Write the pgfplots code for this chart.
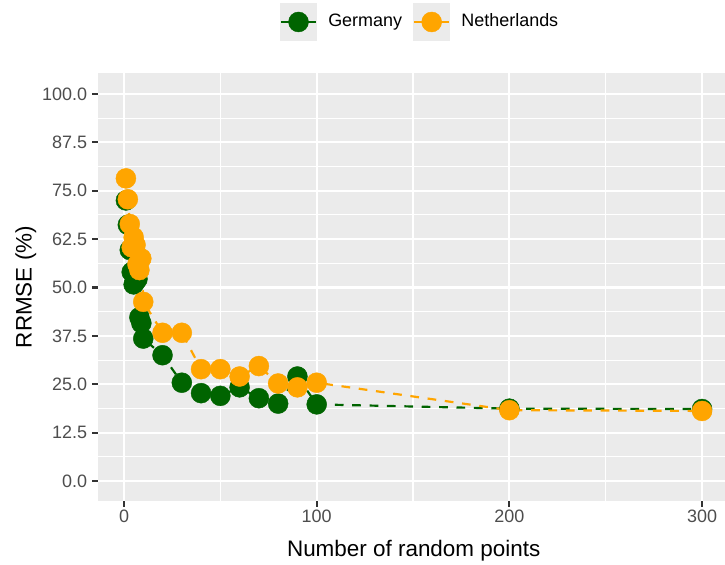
\documentclass[border=0pt]{standalone}
\usepackage{pgfplots}
\usepackage{pgfplotstable}
\pgfplotsset{compat=1.18}
\usepackage{fontspec}
\setmainfont{Liberation Sans}

\definecolor{panelgray}{HTML}{EBEBEB}
\definecolor{tickgray}{HTML}{333333}
\definecolor{labelgray}{HTML}{4D4D4D}
\definecolor{de}{HTML}{006400}
\definecolor{nl}{HTML}{FFA500}

% RRMSE (%) against the number of random points
\pgfplotstableread{
n   rrmse
1   72.5
2   66.2
3   59.7
4   54.0
5   50.8
6   51.5
7   52.2
8   42.3
9   40.8
10  36.8
20  32.5
30  25.4
40  22.7
50  22.0
60  24.2
70  21.4
80  20.0
90  27.0
100 19.8
200 18.7
300 18.6
}\germany

\pgfplotstableread{
n   rrmse
1   78.2
2   72.8
3   66.4
4   60.4
5   63.0
6   61.0
7   56.0
8   54.5
9   57.5
10  46.3
20  38.3
30  38.3
40  28.9
50  28.9
60  27.0
70  29.7
80  25.2
90  24.2
100 25.4
200 18.3
300 18.1
}\netherlands

\begin{document}
\begin{tikzpicture}
\useasboundingbox (-48.02pt,-30.87pt) rectangle (307.23pt,245.49pt);
\begin{axis}[
  at={(0,0)}, anchor=south west,
  scale only axis, width=307.23pt, height=209.72pt,
  xmin=-13.49, xmax=311.9, ymin=-5.17, ymax=105.43,
  axis background/.style={fill=panelgray},
  axis line style={draw=none},
  grid=both,
  major grid style={white, line width=1.07pt},
  minor grid style={white, line width=0.53pt},
  xtick={0,100,200,300}, xticklabels={0,100,200,300},
  minor xtick={50,150,250},
  ytick={0,12.5,25,37.5,50,62.5,75,87.5,100},
  yticklabels={0.0,12.5,25.0,37.5,50.0,62.5,75.0,87.5,100.0},
  minor ytick={6.25,18.75,31.25,43.75,56.25,68.75,81.25,93.75},
  tick align=outside, tick pos=left,
  major tick length=2.75pt, minor tick length=0pt,
  tick style={tickgray, line width=1.07pt},
  ticklabel style={font=\fontsize{8.8}{10}\selectfont, text=labelgray, inner sep=0pt},
  yticklabel style={xshift=-2.4pt},
  xticklabel style={yshift=-1.5pt},
  xlabel={Number of random points},
  ylabel={RRMSE (\%)},
  label style={font=\fontsize{11}{13}\selectfont, text=black, inner sep=0pt},
  xlabel style={at={(axis description cs:0.5035,-0.1285)}, anchor=base},
  ylabel style={at={(axis description cs:-0.0978,0.5)}, anchor=south},
  legend image code/.code={
    \fill[panelgray] (0pt,-8.64pt) rectangle (17.28pt,8.64pt);
    \draw[#1, mark=none, solid] (0pt,0pt) -- (17.28pt,0pt);
    \draw[#1] plot coordinates {(8.64pt,0pt)};
  },
  legend columns=2,
  legend cell align=left,
  legend style={at={(axis description cs:0.512,1.1192)}, anchor=center,
    draw=none, fill=none, inner sep=0pt, outer sep=0pt,
    font=\fontsize{8.8}{10}\selectfont,
    nodes={inner sep=0pt},
    /tikz/every odd column/.append style={column sep=5.4pt},
    /tikz/every even column/.append style={column sep=5.3pt}},
]
% points first, dashed connecting lines on top
\addplot[forget plot, only marks, mark=*, mark size=4.9pt, de,
  mark options={fill=de, draw=de, line width=0.2pt}] table[x=n, y=rrmse] {\germany};
\addplot[forget plot, only marks, mark=*, mark size=4.9pt, nl,
  mark options={fill=nl, draw=nl, line width=0.2pt}] table[x=n, y=rrmse] {\netherlands};
\addplot[forget plot, de, line width=1.07pt, dash pattern=on 4.26pt off 4.26pt]
  table[x=n, y=rrmse] {\germany};
\addplot[forget plot, nl, line width=1.07pt, dash pattern=on 4.26pt off 4.26pt]
  table[x=n, y=rrmse] {\netherlands};

\addlegendimage{de, line width=1.07pt, mark=*, mark size=4.9pt,
  mark options={fill=de, draw=de, line width=0.2pt}}
\addlegendentry{Germany}
\addlegendimage{nl, line width=1.07pt, mark=*, mark size=4.9pt,
  mark options={fill=nl, draw=nl, line width=0.2pt}}
\addlegendentry{Netherlands}
\end{axis}
\end{tikzpicture}
\end{document}
